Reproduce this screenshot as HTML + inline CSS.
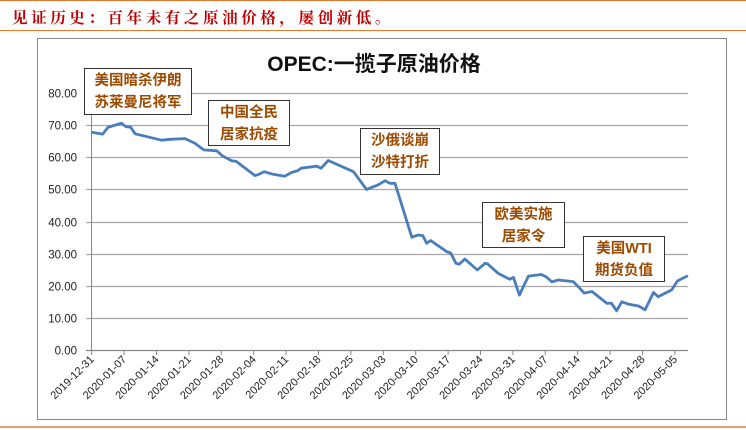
<!DOCTYPE html>
<html><head><meta charset="utf-8">
<style>
body{margin:0;width:746px;height:430px;background:#fff;overflow:hidden;position:relative;font-family:"Liberation Sans","Noto Sans CJK SC",sans-serif}
.hdr{position:absolute;left:0;top:0;width:746px;height:31px;border-top:1.5px solid #e8772e;border-bottom:1.5px solid #e8772e;box-sizing:border-box}
.hdr span{position:absolute;left:12px;top:5px;color:#c00000;font-family:"Noto Serif CJK SC","Liberation Serif",serif;font-weight:bold;font-size:15.5px;letter-spacing:3.6px}
.ann{position:absolute;border:1px solid #333;background:#fff;color:#9c4a00;font-weight:bold;font-size:14.5px;line-height:22px;text-align:center;box-sizing:border-box;padding-top:1px}
</style></head><body>
<div class="hdr"><span>见证历史：百年未有之原油价格，屡创新低。</span></div>
<div style="position:absolute;left:0;top:426px;width:746px;height:2px;background:#e8a070"></div>
<svg id="chart" width="746" height="430" style="position:absolute;left:0;top:0">
<rect x="37.5" y="38.5" width="689" height="381" fill="none" stroke="#888"/>
<text x="374" y="71" text-anchor="middle" font-size="21" font-weight="bold" fill="#111" font-family="Liberation Sans,Noto Sans CJK SC,sans-serif">OPEC:一揽子原油价格</text>
<g id="grid"></g><g id="xaxis"></g><g id="series"></g>
</svg>
<div class="ann" style="left:84px;top:68px;width:108px;height:47px">美国暗杀伊朗<br>苏莱曼尼将军</div>
<div class="ann" style="left:208px;top:100px;width:82px;height:46px">中国全民<br>居家抗疫</div>
<div class="ann" style="left:360px;top:128px;width:80px;height:47px">沙俄谈崩<br>沙特打折</div>
<div class="ann" style="left:482px;top:202px;width:83px;height:46px">欧美实施<br>居家令</div>
<div class="ann" style="left:583px;top:236px;width:82px;height:46px">美国WTI<br>期货负值</div>
<script>
const yTicks=[0,10,20,30,40,50,60,70,80];
const xLabels=["2019-12-31","2020-01-07","2020-01-14","2020-01-21","2020-01-28","2020-02-04","2020-02-11","2020-02-18","2020-02-25","2020-03-03","2020-03-10","2020-03-17","2020-03-24","2020-03-31","2020-04-07","2020-04-14","2020-04-21","2020-04-28","2020-05-05"];
const days=[0,1.7,2.5,4.6,5.3,6.0,6.7,10.8,12.1,14.4,15.9,17.3,19.3,20.2,21.6,22.3,25.2,25.8,26.6,28.0,29.8,30.9,31.8,32.3,34.7,35.4,36.5,40.4,42.4,44.2,45.3,46.0,46.8,49.4,50.4,51.1,51.7,52.3,54.8,55.4,56.2,56.7,57.6,59.5,60.7,61.1,62.7,64.5,65.1,66.0,66.6,67.4,69.4,70.2,71.0,72.0,74.3,75.1,76.0,77.2,79.5,80.2,81.0,81.8,82.8,84.4,85.4,86.7,87.4,89.5,90.4,92.0];
const prices=[67.8,67.2,69.3,70.6,69.5,69.4,67.3,65.3,65.6,65.8,64.4,62.3,62.0,60.4,58.9,58.7,54.3,54.7,55.5,54.7,54.1,55.3,55.8,56.6,57.2,56.6,59.0,55.5,50.0,51.4,52.7,51.9,51.9,35.1,35.8,35.6,33.2,34.1,30.6,30.2,27.0,26.7,28.3,24.9,27.0,26.8,23.9,22.0,22.6,17.1,19.7,23.0,23.5,22.7,21.2,21.8,21.3,19.7,17.7,18.2,14.5,14.6,12.2,15.0,14.3,13.7,12.5,17.9,16.6,18.7,21.5,23.1];
const X0=91.7,DX=6.48,Y0=350,YS=3.2125,XR=688;
const xS=d=>X0+d*DX, yS=v=>Y0-v*YS;
const NS="http://www.w3.org/2000/svg";
const mk=(t,a,p)=>{const e=document.createElementNS(NS,t);for(const k in a)e.setAttribute(k,a[k]);p.appendChild(e);return e;};
const grid=document.getElementById('grid');
yTicks.forEach(v=>{
 const y=Math.round(yS(v))+0.5;
 const l=mk('line',{x1:86,x2:XR,y1:y,y2:y,stroke:v===0?'#888':'#a6a6a6','stroke-width':1.2},grid);
 
 
 const t=mk('text',{x:77,y:y+4,'text-anchor':'end','font-size':11.5,fill:'#222'},grid);
 t.textContent=v.toFixed(2);
 
 
});
const ax=mk('line',{x1:91.5,x2:91.5,y1:yS(80),y2:Y0+1,stroke:'#888'},grid);


const xa=document.getElementById('xaxis');
xLabels.forEach((s,i)=>{
 const x=xS(i*5);
 const tk=mk('line',{x1:x,x2:x,y1:Y0,y2:Y0+5,stroke:'#888'},xa);
 
 
 const t=mk('text',{x:x+3,y:Y0+10,'text-anchor':'end','font-size':11,fill:'#222',transform:`rotate(-45 ${x+3} ${Y0+10})`},xa);
 t.textContent=s;
 
 
});
const pts=days.map((d,i)=>xS(d).toFixed(1)+','+yS(prices[i]).toFixed(1)).join(' ');
const pl=mk('polyline',{points:pts,fill:'none',stroke:'#4a7ebb','stroke-width':2.8,'stroke-linejoin':'round'},document.getElementById('series'));


</script>
</body></html>
